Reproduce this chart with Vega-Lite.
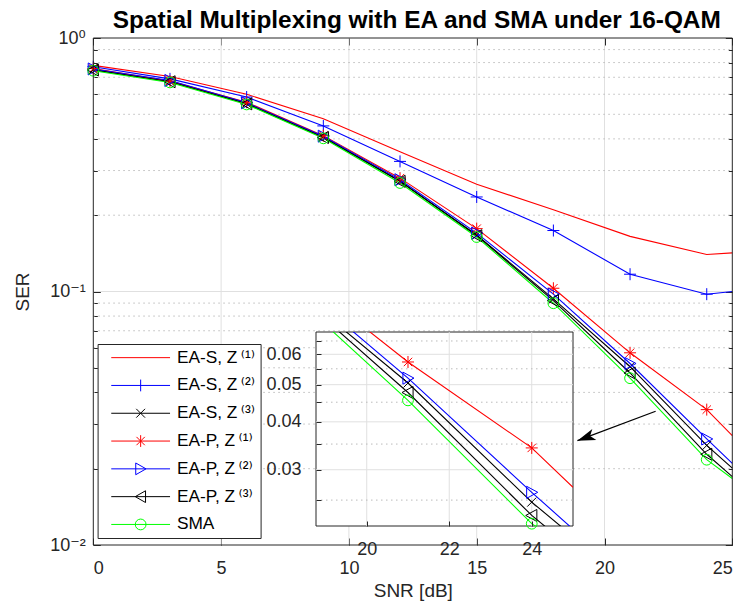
{
  "$schema": "https://vega.github.io/schema/vega-lite/v6.json",
  "background": "white",
  "padding": {"left": 13, "top": 7, "right": 10, "bottom": 2},
  "width": 257,
  "height": 194,
  "view": {"stroke": null, "fill": null},
  "title": {"text": "Spatial Multiplexing with EA and SMA under 16-QAM", "frame": "group", "anchor": "middle", "dx": -27.7, "offset": -4, "fontSize": 24.4, "fontWeight": "bold", "color": "#000000", "font": "Liberation Sans, DejaVu Sans, sans-serif"},
  "config": {
    "font": "Liberation Sans, DejaVu Sans, sans-serif",
    "axis": {
      "labelFont": "Liberation Sans, DejaVu Sans, sans-serif",
      "labelFontSize": 18,
      "labelColor": "#262626",
      "titleFont": "Liberation Sans, DejaVu Sans, sans-serif",
      "titleFontSize": 19,
      "titleFontWeight": "normal",
      "titleColor": "#262626",
      "domain": false,
      "grid": false,
      "tickColor": "#262626"
    }
  },
  "datasets": {
    "one": [{}],
    "ser": [
      {"series": "EA-S1", "snr": 0, "ser": 0.78},
      {"series": "EA-S1", "snr": 3, "ser": 0.705},
      {"series": "EA-S1", "snr": 6, "ser": 0.6},
      {"series": "EA-S1", "snr": 9, "ser": 0.48},
      {"series": "EA-S1", "snr": 12, "ser": 0.356},
      {"series": "EA-S1", "snr": 15, "ser": 0.265},
      {"series": "EA-S1", "snr": 18, "ser": 0.21},
      {"series": "EA-S1", "snr": 21, "ser": 0.165},
      {"series": "EA-S1", "snr": 24, "ser": 0.14},
      {"series": "EA-S1", "snr": 25, "ser": 0.142},
      {"series": "EA-S2", "snr": 0, "ser": 0.77},
      {"series": "EA-S2", "snr": 3, "ser": 0.69},
      {"series": "EA-S2", "snr": 6, "ser": 0.585},
      {"series": "EA-S2", "snr": 9, "ser": 0.45},
      {"series": "EA-S2", "snr": 12, "ser": 0.326},
      {"series": "EA-S2", "snr": 15, "ser": 0.236},
      {"series": "EA-S2", "snr": 18, "ser": 0.174},
      {"series": "EA-S2", "snr": 21, "ser": 0.117},
      {"series": "EA-S2", "snr": 24, "ser": 0.0976},
      {"series": "EA-S2", "snr": 25, "ser": 0.1},
      {"series": "EA-S3", "snr": 0, "ser": 0.75},
      {"series": "EA-S3", "snr": 3, "ser": 0.674},
      {"series": "EA-S3", "snr": 6, "ser": 0.552},
      {"series": "EA-S3", "snr": 9, "ser": 0.407},
      {"series": "EA-S3", "snr": 12, "ser": 0.272},
      {"series": "EA-S3", "snr": 15, "ser": 0.167},
      {"series": "EA-S3", "snr": 18, "ser": 0.0935},
      {"series": "EA-S3", "snr": 21, "ser": 0.0505},
      {"series": "EA-S3", "snr": 24, "ser": 0.0247},
      {"series": "EA-S3", "snr": 25, "ser": 0.0201},
      {"series": "EA-P1", "snr": 0, "ser": 0.758},
      {"series": "EA-P1", "snr": 3, "ser": 0.676},
      {"series": "EA-P1", "snr": 6, "ser": 0.558},
      {"series": "EA-P1", "snr": 9, "ser": 0.412},
      {"series": "EA-P1", "snr": 12, "ser": 0.28},
      {"series": "EA-P1", "snr": 15, "ser": 0.177},
      {"series": "EA-P1", "snr": 18, "ser": 0.103},
      {"series": "EA-P1", "snr": 21, "ser": 0.0573},
      {"series": "EA-P1", "snr": 24, "ser": 0.0342},
      {"series": "EA-P1", "snr": 25, "ser": 0.027},
      {"series": "EA-P2", "snr": 0, "ser": 0.755},
      {"series": "EA-P2", "snr": 3, "ser": 0.68},
      {"series": "EA-P2", "snr": 6, "ser": 0.555},
      {"series": "EA-P2", "snr": 9, "ser": 0.41},
      {"series": "EA-P2", "snr": 12, "ser": 0.276},
      {"series": "EA-P2", "snr": 15, "ser": 0.17},
      {"series": "EA-P2", "snr": 18, "ser": 0.0976},
      {"series": "EA-P2", "snr": 21, "ser": 0.052},
      {"series": "EA-P2", "snr": 24, "ser": 0.0262},
      {"series": "EA-P2", "snr": 25, "ser": 0.021},
      {"series": "EA-P3", "snr": 0, "ser": 0.748},
      {"series": "EA-P3", "snr": 3, "ser": 0.672},
      {"series": "EA-P3", "snr": 6, "ser": 0.55},
      {"series": "EA-P3", "snr": 9, "ser": 0.405},
      {"series": "EA-P3", "snr": 12, "ser": 0.272},
      {"series": "EA-P3", "snr": 15, "ser": 0.166},
      {"series": "EA-P3", "snr": 18, "ser": 0.092},
      {"series": "EA-P3", "snr": 21, "ser": 0.0477},
      {"series": "EA-P3", "snr": 24, "ser": 0.0228},
      {"series": "EA-P3", "snr": 25, "ser": 0.0186},
      {"series": "SMA", "snr": 0, "ser": 0.743},
      {"series": "SMA", "snr": 3, "ser": 0.668},
      {"series": "SMA", "snr": 6, "ser": 0.547},
      {"series": "SMA", "snr": 9, "ser": 0.402},
      {"series": "SMA", "snr": 12, "ser": 0.268},
      {"series": "SMA", "snr": 15, "ser": 0.164},
      {"series": "SMA", "snr": 18, "ser": 0.0899},
      {"series": "SMA", "snr": 21, "ser": 0.0455},
      {"series": "SMA", "snr": 24, "ser": 0.0217},
      {"series": "SMA", "snr": 25, "ser": 0.0183}
    ]
  },
  "resolve": {
    "scale": {"x": "independent", "y": "independent", "color": "independent", "shape": "independent"},
    "axis": {"x": "independent", "y": "independent"},
    "legend": {"color": "independent", "shape": "independent"}
  },
  "layer": [
    {
      "resolve": {"axis": {"x": "independent", "y": "independent"}},
      "layer": [
        {"data": {"name": "one"}, "mark": {"type": "rule", "color": "#e0e0e0", "strokeWidth": 1}, "encoding": {"x": {"datum": 5, "type": "quantitative", "axis": null}, "y": {"datum": 0.01, "type": "quantitative", "axis": null}, "y2": {"datum": 1}}},
        {"data": {"name": "one"}, "mark": {"type": "rule", "color": "#e0e0e0", "strokeWidth": 1}, "encoding": {"x": {"datum": 10, "type": "quantitative", "axis": null}, "y": {"datum": 0.01, "type": "quantitative", "axis": null}, "y2": {"datum": 1}}},
        {"data": {"name": "one"}, "mark": {"type": "rule", "color": "#e0e0e0", "strokeWidth": 1}, "encoding": {"x": {"datum": 15, "type": "quantitative", "axis": null}, "y": {"datum": 0.01, "type": "quantitative", "axis": null}, "y2": {"datum": 1}}},
        {"data": {"name": "one"}, "mark": {"type": "rule", "color": "#e0e0e0", "strokeWidth": 1}, "encoding": {"x": {"datum": 20, "type": "quantitative", "axis": null}, "y": {"datum": 0.01, "type": "quantitative", "axis": null}, "y2": {"datum": 1}}},
        {"data": {"name": "one"}, "mark": {"type": "rule", "color": "#e0e0e0", "strokeWidth": 1}, "encoding": {"y": {"datum": 0.1, "type": "quantitative", "axis": null}, "x": {"datum": 0, "type": "quantitative", "axis": null}, "x2": {"datum": 25}}},
        {"data": {"name": "one"}, "mark": {"type": "rule", "color": "#bbbbbb", "strokeWidth": 1, "strokeDash": [1.5, 3.5]}, "encoding": {"y": {"datum": 0.02, "type": "quantitative", "axis": null}, "x": {"datum": 0, "type": "quantitative", "axis": null}, "x2": {"datum": 25}}},
        {"data": {"name": "one"}, "mark": {"type": "rule", "color": "#bbbbbb", "strokeWidth": 1, "strokeDash": [1.5, 3.5]}, "encoding": {"y": {"datum": 0.03, "type": "quantitative", "axis": null}, "x": {"datum": 0, "type": "quantitative", "axis": null}, "x2": {"datum": 25}}},
        {"data": {"name": "one"}, "mark": {"type": "rule", "color": "#bbbbbb", "strokeWidth": 1, "strokeDash": [1.5, 3.5]}, "encoding": {"y": {"datum": 0.04, "type": "quantitative", "axis": null}, "x": {"datum": 0, "type": "quantitative", "axis": null}, "x2": {"datum": 25}}},
        {"data": {"name": "one"}, "mark": {"type": "rule", "color": "#bbbbbb", "strokeWidth": 1, "strokeDash": [1.5, 3.5]}, "encoding": {"y": {"datum": 0.05, "type": "quantitative", "axis": null}, "x": {"datum": 0, "type": "quantitative", "axis": null}, "x2": {"datum": 25}}},
        {"data": {"name": "one"}, "mark": {"type": "rule", "color": "#bbbbbb", "strokeWidth": 1, "strokeDash": [1.5, 3.5]}, "encoding": {"y": {"datum": 0.06, "type": "quantitative", "axis": null}, "x": {"datum": 0, "type": "quantitative", "axis": null}, "x2": {"datum": 25}}},
        {"data": {"name": "one"}, "mark": {"type": "rule", "color": "#bbbbbb", "strokeWidth": 1, "strokeDash": [1.5, 3.5]}, "encoding": {"y": {"datum": 0.07, "type": "quantitative", "axis": null}, "x": {"datum": 0, "type": "quantitative", "axis": null}, "x2": {"datum": 25}}},
        {"data": {"name": "one"}, "mark": {"type": "rule", "color": "#bbbbbb", "strokeWidth": 1, "strokeDash": [1.5, 3.5]}, "encoding": {"y": {"datum": 0.08, "type": "quantitative", "axis": null}, "x": {"datum": 0, "type": "quantitative", "axis": null}, "x2": {"datum": 25}}},
        {"data": {"name": "one"}, "mark": {"type": "rule", "color": "#bbbbbb", "strokeWidth": 1, "strokeDash": [1.5, 3.5]}, "encoding": {"y": {"datum": 0.09, "type": "quantitative", "axis": null}, "x": {"datum": 0, "type": "quantitative", "axis": null}, "x2": {"datum": 25}}},
        {"data": {"name": "one"}, "mark": {"type": "rule", "color": "#bbbbbb", "strokeWidth": 1, "strokeDash": [1.5, 3.5]}, "encoding": {"y": {"datum": 0.2, "type": "quantitative", "axis": null}, "x": {"datum": 0, "type": "quantitative", "axis": null}, "x2": {"datum": 25}}},
        {"data": {"name": "one"}, "mark": {"type": "rule", "color": "#bbbbbb", "strokeWidth": 1, "strokeDash": [1.5, 3.5]}, "encoding": {"y": {"datum": 0.3, "type": "quantitative", "axis": null}, "x": {"datum": 0, "type": "quantitative", "axis": null}, "x2": {"datum": 25}}},
        {"data": {"name": "one"}, "mark": {"type": "rule", "color": "#bbbbbb", "strokeWidth": 1, "strokeDash": [1.5, 3.5]}, "encoding": {"y": {"datum": 0.4, "type": "quantitative", "axis": null}, "x": {"datum": 0, "type": "quantitative", "axis": null}, "x2": {"datum": 25}}},
        {"data": {"name": "one"}, "mark": {"type": "rule", "color": "#bbbbbb", "strokeWidth": 1, "strokeDash": [1.5, 3.5]}, "encoding": {"y": {"datum": 0.5, "type": "quantitative", "axis": null}, "x": {"datum": 0, "type": "quantitative", "axis": null}, "x2": {"datum": 25}}},
        {"data": {"name": "one"}, "mark": {"type": "rule", "color": "#bbbbbb", "strokeWidth": 1, "strokeDash": [1.5, 3.5]}, "encoding": {"y": {"datum": 0.6, "type": "quantitative", "axis": null}, "x": {"datum": 0, "type": "quantitative", "axis": null}, "x2": {"datum": 25}}},
        {"data": {"name": "one"}, "mark": {"type": "rule", "color": "#bbbbbb", "strokeWidth": 1, "strokeDash": [1.5, 3.5]}, "encoding": {"y": {"datum": 0.7, "type": "quantitative", "axis": null}, "x": {"datum": 0, "type": "quantitative", "axis": null}, "x2": {"datum": 25}}},
        {"data": {"name": "one"}, "mark": {"type": "rule", "color": "#bbbbbb", "strokeWidth": 1, "strokeDash": [1.5, 3.5]}, "encoding": {"y": {"datum": 0.8, "type": "quantitative", "axis": null}, "x": {"datum": 0, "type": "quantitative", "axis": null}, "x2": {"datum": 25}}},
        {"data": {"name": "one"}, "mark": {"type": "rule", "color": "#bbbbbb", "strokeWidth": 1, "strokeDash": [1.5, 3.5]}, "encoding": {"y": {"datum": 0.9, "type": "quantitative", "axis": null}, "x": {"datum": 0, "type": "quantitative", "axis": null}, "x2": {"datum": 25}}},
        {
          "data": {"name": "ser"},
          "mark": {"type": "line", "strokeWidth": 1.1},
          "encoding": {
            "x": {
              "field": "snr", "type": "quantitative",
              "scale": {"domain": [0, 25], "range": [-222.7, 416.3], "nice": false, "zero": false},
              "axis": {"orient": "bottom", "offset": 19, "values": [0, 5, 10, 15, 20, 25], "title": "SNR [dB]", "tickSize": -7, "labelPadding": 21, "titlePadding": 4}
            },
            "y": {
              "field": "ser", "type": "quantitative",
              "scale": {"type": "log", "domain": [0.01, 1], "range": [213, -294], "nice": false},
              "axis": {
                "orient": "left",
                "offset": 222.7,
                "values": [0.01, 0.02, 0.03, 0.04, 0.05, 0.06, 0.07, 0.08, 0.09, 0.1, 0.2, 0.3, 0.4, 0.5, 0.6, 0.7, 0.8, 0.9, 1],
                "labelExpr": "datum.value == 1 ? '10⁰' : datum.value == 0.1 ? '10⁻¹' : datum.value == 0.01 ? '10⁻²' : ''",
                "title": "SER",
                "tickSize": {"condition": {"test": "datum.value == 1 || datum.value == 0.1 || datum.value == 0.01", "value": -7}, "value": -4},
                "labelPadding": 15,
                "titlePadding": 17
              }
            },
            "color": {
              "field": "series", "type": "nominal",
              "scale": {"domain": ["EA-S1", "EA-S2", "EA-S3", "EA-P1", "EA-P2", "EA-P3", "SMA"], "range": ["#ff0000", "#0000ff", "#000000", "#ff0000", "#0000ff", "#000000", "#00ff00"]},
              "legend": {
                "title": null,
                "orient": "none",
                "legendX": -218.4,
                "legendY": 12,
                "direction": "vertical",
                "labelFontSize": 17.3,
                "labelColor": "#000000",
                "labelFont": "Liberation Sans, DejaVu Sans, sans-serif",
                "labelExpr": "datum.value == 'SMA' ? 'SMA' : datum.value == 'EA-S1' ? 'EA-S, Z\u2009⁽¹⁾' : datum.value == 'EA-S2' ? 'EA-S, Z\u2009⁽²⁾' : datum.value == 'EA-S3' ? 'EA-S, Z\u2009⁽³⁾' : datum.value == 'EA-P1' ? 'EA-P, Z\u2009⁽¹⁾' : datum.value == 'EA-P2' ? 'EA-P, Z\u2009⁽²⁾' : 'EA-P, Z\u2009⁽³⁾'",
                "symbolSize": 96,
                "symbolStrokeWidth": 1,
                "labelOffset": 57,
                "rowPadding": 9.8,
                "padding": 5,
                "strokeColor": "#262626",
                "fillColor": "#ffffff",
                "encode": {
                  "symbols": {
                    "update": {
                      "shape": {"signal": "datum.value == 'EA-S1' ? 'M0,0H12' : datum.value == 'EA-S2' ? 'M0,0H12M6,-1.2V1.2' : datum.value == 'EA-S3' ? 'M0,0H12M5.1,-0.9L6.9,0.9M5.1,0.9L6.9,-0.9' : datum.value == 'EA-P1' ? 'M0,0H12M6,-1.2V1.2M5.15,-0.85L6.85,0.85M5.15,0.85L6.85,-0.85' : datum.value == 'EA-P2' ? 'M0,0H12M5,-1.2L7.1,0L5,1.2Z' : datum.value == 'EA-P3' ? 'M0,0H12M7,-1.2L4.9,0L7,1.2Z' : 'M0,0H12M4.9,0A1.1,1.1,0,1,1,7.1,0A1.1,1.1,0,1,1,4.9,0Z'"},
                      "fill": {"value": "transparent"},
                      "stroke": {"signal": "datum.value == 'EA-S1' || datum.value == 'EA-P1' ? '#ff0000' : datum.value == 'EA-S2' || datum.value == 'EA-P2' ? '#0000ff' : datum.value == 'SMA' ? '#00ff00' : '#000000'"},
                      "strokeWidth": {"value": 1},
                      "size": {"value": 96},
                      "opacity": {"value": 1}
                    }
                  }
                }
              }
            }
          }
        },
        {
          "data": {"name": "ser"},
          "transform": [{"filter": "datum.snr <= 24 && datum.series != 'EA-S1'"}],
          "mark": {"type": "point", "filled": false, "size": 144, "strokeWidth": 1, "opacity": 1},
          "encoding": {
            "x": {
              "field": "snr", "type": "quantitative",
              "axis": {"orient": "top", "offset": 294, "values": [0, 5, 10, 15, 20, 25], "labels": false, "title": null, "tickSize": -7}
            },
            "y": {
              "field": "ser", "type": "quantitative",
              "axis": {"orient": "right", "offset": 159.3, "values": [0.01, 0.02, 0.03, 0.04, 0.05, 0.06, 0.07, 0.08, 0.09, 0.1, 0.2, 0.3, 0.4, 0.5, 0.6, 0.7, 0.8, 0.9, 1], "labels": false, "title": null, "tickSize": {"condition": {"test": "datum.value == 1 || datum.value == 0.1 || datum.value == 0.01", "value": -7}, "value": -4}}
            },
            "color": {"field": "series", "type": "nominal"},
            "shape": {
              "field": "series", "type": "nominal",
              "scale": {"domain": ["EA-S2", "EA-S3", "EA-P1", "EA-P2", "EA-P3", "SMA"], "range": ["M-1,0H1M0,-1V1", "M-0.75,-0.75L0.75,0.75M-0.75,0.75L0.75,-0.75", "M-1,0H1M0,-1V1M-0.7,-0.7L0.7,0.7M-0.7,0.7L0.7,-0.7", "M-0.85,-1L1,0L-0.85,1Z", "M0.85,-1L-1,0L0.85,1Z", "M-0.9,0A0.9,0.9,0,1,1,0.9,0A0.9,0.9,0,1,1,-0.9,0Z"]},
              "legend": null
            }
          }
        },
        {
          "data": {"name": "one"},
          "mark": {"type": "rule", "color": "#000000", "strokeWidth": 1.3},
          "encoding": {
            "x": {"datum": 22.0, "type": "quantitative", "axis": null},
            "y": {"datum": 0.0337, "type": "quantitative", "axis": null},
            "x2": {"datum": 18.94},
            "y2": {"datum": 0.0258}
          }
        },
        {
          "data": {"name": "one"},
          "mark": {"type": "point", "shape": "M0,0L-2,-0.65L-1.5,0L-2,0.65Z", "size": 324, "angle": 160, "filled": true, "color": "#000000", "opacity": 1},
          "encoding": {
            "x": {"datum": 18.94, "type": "quantitative", "axis": null},
            "y": {"datum": 0.0258, "type": "quantitative", "axis": null}
          }
        },
        {
          "data": {"name": "one"},
          "mark": {"type": "rect", "filled": false, "stroke": "#262626", "strokeWidth": 1},
          "encoding": {
            "x": {"datum": 0, "type": "quantitative", "axis": null},
            "x2": {"datum": 25},
            "y": {"datum": 0.01, "type": "quantitative", "axis": null},
            "y2": {"datum": 1}
          }
        }
      ]
    },
    {
      "resolve": {"axis": {"x": "independent", "y": "independent"}},
      "layer": [
        {
          "data": {"name": "one"},
          "mark": {"type": "rect", "fill": "#ffffff", "stroke": "#262626", "strokeWidth": 1},
          "encoding": {
            "x": {"datum": 18.77, "type": "quantitative", "axis": null},
            "x2": {"datum": 25},
            "y": {"datum": 0.0214, "type": "quantitative", "axis": null},
            "y2": {"datum": 0.0686}
          }
        },
        {"data": {"name": "one"}, "mark": {"type": "rule", "color": "#e0e0e0", "strokeWidth": 1}, "encoding": {"x": {"datum": 20, "type": "quantitative", "axis": null}, "y": {"datum": 0.0214, "type": "quantitative", "axis": null}, "y2": {"datum": 0.0686}}},
        {"data": {"name": "one"}, "mark": {"type": "rule", "color": "#e0e0e0", "strokeWidth": 1}, "encoding": {"x": {"datum": 22, "type": "quantitative", "axis": null}, "y": {"datum": 0.0214, "type": "quantitative", "axis": null}, "y2": {"datum": 0.0686}}},
        {"data": {"name": "one"}, "mark": {"type": "rule", "color": "#e0e0e0", "strokeWidth": 1}, "encoding": {"x": {"datum": 24, "type": "quantitative", "axis": null}, "y": {"datum": 0.0214, "type": "quantitative", "axis": null}, "y2": {"datum": 0.0686}}},
        {"data": {"name": "one"}, "mark": {"type": "rule", "color": "#e0e0e0", "strokeWidth": 1}, "encoding": {"y": {"datum": 0.03, "type": "quantitative", "axis": null}, "x": {"datum": 18.77, "type": "quantitative", "axis": null}, "x2": {"datum": 25}}},
        {"data": {"name": "one"}, "mark": {"type": "rule", "color": "#e0e0e0", "strokeWidth": 1}, "encoding": {"y": {"datum": 0.04, "type": "quantitative", "axis": null}, "x": {"datum": 18.77, "type": "quantitative", "axis": null}, "x2": {"datum": 25}}},
        {"data": {"name": "one"}, "mark": {"type": "rule", "color": "#e0e0e0", "strokeWidth": 1}, "encoding": {"y": {"datum": 0.05, "type": "quantitative", "axis": null}, "x": {"datum": 18.77, "type": "quantitative", "axis": null}, "x2": {"datum": 25}}},
        {"data": {"name": "one"}, "mark": {"type": "rule", "color": "#e0e0e0", "strokeWidth": 1}, "encoding": {"y": {"datum": 0.06, "type": "quantitative", "axis": null}, "x": {"datum": 18.77, "type": "quantitative", "axis": null}, "x2": {"datum": 25}}},
        {"data": {"name": "one"}, "mark": {"type": "rule", "color": "#bbbbbb", "strokeWidth": 1, "strokeDash": [1.5, 3.5]}, "encoding": {"y": {"datum": 0.025, "type": "quantitative", "axis": null}, "x": {"datum": 18.77, "type": "quantitative", "axis": null}, "x2": {"datum": 25}}},
        {"data": {"name": "one"}, "mark": {"type": "rule", "color": "#bbbbbb", "strokeWidth": 1, "strokeDash": [1.5, 3.5]}, "encoding": {"y": {"datum": 0.035, "type": "quantitative", "axis": null}, "x": {"datum": 18.77, "type": "quantitative", "axis": null}, "x2": {"datum": 25}}},
        {"data": {"name": "one"}, "mark": {"type": "rule", "color": "#bbbbbb", "strokeWidth": 1, "strokeDash": [1.5, 3.5]}, "encoding": {"y": {"datum": 0.045, "type": "quantitative", "axis": null}, "x": {"datum": 18.77, "type": "quantitative", "axis": null}, "x2": {"datum": 25}}},
        {"data": {"name": "one"}, "mark": {"type": "rule", "color": "#bbbbbb", "strokeWidth": 1, "strokeDash": [1.5, 3.5]}, "encoding": {"y": {"datum": 0.055, "type": "quantitative", "axis": null}, "x": {"datum": 18.77, "type": "quantitative", "axis": null}, "x2": {"datum": 25}}},
        {"data": {"name": "one"}, "mark": {"type": "rule", "color": "#bbbbbb", "strokeWidth": 1, "strokeDash": [1.5, 3.5]}, "encoding": {"y": {"datum": 0.065, "type": "quantitative", "axis": null}, "x": {"datum": 18.77, "type": "quantitative", "axis": null}, "x2": {"datum": 25}}},
        {
          "data": {"name": "ser"},
          "mark": {"type": "line", "clip": true, "strokeWidth": 1.1},
          "encoding": {
            "x": {
              "field": "snr", "type": "quantitative",
              "scale": {"domain": [18.77, 25], "nice": false, "zero": false},
              "axis": {"orient": "bottom", "values": [20, 22, 24], "title": null, "tickSize": -5, "labelPadding": 19, "zindex": 1}
            },
            "y": {
              "field": "ser", "type": "quantitative",
              "scale": {"type": "log", "domain": [0.0214, 0.0686], "nice": false},
              "axis": {
                "orient": "left",
                "values": [0.025, 0.03, 0.035, 0.04, 0.045, 0.05, 0.055, 0.06, 0.065],
                "labelExpr": "round(datum.value * 1000) % 10 == 0 ? format(datum.value, '.2f') : ''",
                "title": null,
                "tickSize": -5,
                "labelPadding": 20,
                "zindex": 1
              }
            },
            "color": {
              "field": "series", "type": "nominal",
              "scale": {"domain": ["EA-S1", "EA-S2", "EA-S3", "EA-P1", "EA-P2", "EA-P3", "SMA"], "range": ["#ff0000", "#0000ff", "#000000", "#ff0000", "#0000ff", "#000000", "#00ff00"]},
              "legend": null
            }
          }
        },
        {
          "data": {"name": "ser"},
          "transform": [{"filter": "datum.snr >= 18.77 && datum.snr <= 24 && datum.ser >= 0.0214 && datum.ser <= 0.0686 && datum.series != 'EA-S1'"}],
          "mark": {"type": "point", "filled": false, "size": 144, "strokeWidth": 1, "opacity": 1},
          "encoding": {
            "x": {"field": "snr", "type": "quantitative", "axis": null},
            "y": {"field": "ser", "type": "quantitative", "axis": null},
            "color": {"field": "series", "type": "nominal", "legend": null},
            "shape": {
              "field": "series", "type": "nominal",
              "scale": {"domain": ["EA-S2", "EA-S3", "EA-P1", "EA-P2", "EA-P3", "SMA"], "range": ["M-1,0H1M0,-1V1", "M-0.75,-0.75L0.75,0.75M-0.75,0.75L0.75,-0.75", "M-1,0H1M0,-1V1M-0.7,-0.7L0.7,0.7M-0.7,0.7L0.7,-0.7", "M-0.85,-1L1,0L-0.85,1Z", "M0.85,-1L-1,0L0.85,1Z", "M-0.9,0A0.9,0.9,0,1,1,0.9,0A0.9,0.9,0,1,1,-0.9,0Z"]},
              "legend": null
            }
          }
        }
      ]
    }
  ]
}
